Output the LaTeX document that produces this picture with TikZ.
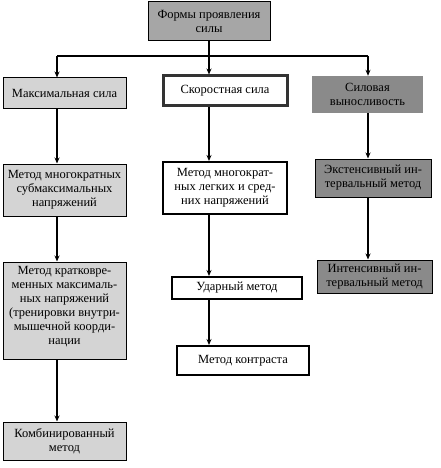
\documentclass[tikz,border=0pt]{standalone}
\usepackage{fontspec}
\setmainfont{Liberation Serif}
\usetikzlibrary{arrows.meta}
\definecolor{topgray}{HTML}{A6A6A6}
\definecolor{lightgray}{HTML}{D4D4D4}
\definecolor{midgray}{HTML}{8A8A8A}
\begin{document}
\begin{tikzpicture}[x=1pt,y=-1pt,
  base/.style={align=center, inner sep=0pt, font=\fontsize{12.5}{14}\selectfont, text=black},
  thinbox/.style={base, draw=black, line width=1pt},
  lbox/.style={thinbox, fill=lightgray},
  topbox/.style={thinbox, fill=topgray},
  gbox/.style={thinbox, fill=midgray},
  speedbox/.style={base, draw=black!80, line width=3pt, fill=white},
  wbox/.style={base, draw=black, line width=2pt, fill=white},
  endbox/.style={base, fill=midgray},
  conn/.style={line width=1.5pt},
  arr/.style={line width=1.5pt, -{Stealth[length=6pt,width=5pt]}}
]
\useasboundingbox (0,0) rectangle (440,468);

\node[topbox, minimum width=122pt, minimum height=39pt] (top) at (209,21.5) {Формы проявления\\силы};

\node[lbox, minimum width=123pt, minimum height=31pt] (max) at (64.5,93.5) {Максимальная сила};
\node[speedbox, minimum width=124pt, minimum height=30pt] (speed) at (225,91) {Скоростная сила};
\node[endbox, minimum width=111pt, minimum height=37pt] (endur) at (367.5,94.5) {Силовая\\выносливость};

\node[lbox, minimum width=123pt, minimum height=52pt] (m1) at (64.5,190) {Метод многократных\\субмаксимальных\\напряжений};
\node[lbox, minimum width=123pt, minimum height=97pt] (m2) at (64.5,310.5) {\parbox[c][97pt][c]{120pt}{\centering\vspace*{-8pt}Метод кратковре-\\менных максималь-\\ных напряжений\\(тренировки внутри-\\мышечной коорди-\\нации}};
\node[lbox, minimum width=123pt, minimum height=38pt] (m3) at (64.5,441) {Комбинированный\\метод};

\node[wbox, minimum width=124pt, minimum height=52pt] (s1) at (225,188) {Метод многократ-\\ных легких и сред-\\них напряжений};
\node[wbox, minimum width=130pt, minimum height=22pt] (s2) at (237,288) {Ударный метод};
\node[wbox, minimum width=132pt, minimum height=29pt] (s3) at (243,360.5) {Метод контраста};

\node[gbox, minimum width=116pt, minimum height=38pt] (e1) at (373,178) {Экстенсивный ин-\\тервальный метод};
\node[gbox, minimum width=115pt, minimum height=33pt] (e2) at (374.5,276.5) {Интенсивный ин-\\тервальный метод};

\coordinate (jl) at (57,56);
\coordinate (jm) at (209,56);
\coordinate (jr) at (368,56);

\draw[conn] (jl) -- (jr);
\draw[arr] (top.south -| jm) -- (speed.north -| jm);
\draw[arr] (jl) -- (max.north -| jl);
\draw[arr] (jr) -- (endur.north -| jr);

\draw[arr] (max.south -| jl) -- (m1.north -| jl);
\draw[arr] (m1.south -| jl) -- (m2.north -| jl);
\draw[arr] (m2.south -| jl) -- (m3.north -| jl);

\draw[arr] (speed.south -| jm) -- (s1.north -| jm);
\draw[arr] (s1.south -| jm) -- (s2.north -| jm);
\draw[arr] (s2.south -| jm) -- (s3.north -| jm);

\draw[arr] (endur.south -| jr) -- (e1.north -| jr);
\draw[arr] (e1.south -| jr) -- (e2.north -| jr);
\end{tikzpicture}
\end{document}
